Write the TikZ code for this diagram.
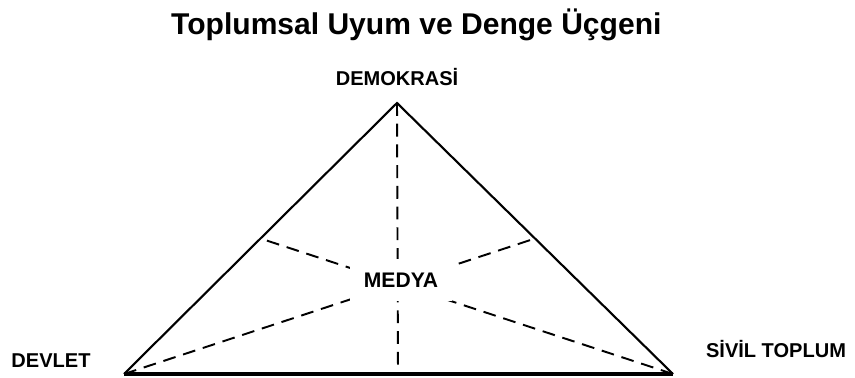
\documentclass[tikz,border=0pt]{standalone}
\usepackage{fontspec}
\setmainfont{Liberation Sans}
\usetikzlibrary{calc}

\begin{document}
\begin{tikzpicture}[x=0.02cm,y=-0.02cm,
	vertexlabel/.style={font=\bfseries\fontsize{11.4}{13}\selectfont},
	median/.style={dash pattern=on 7.3pt off 4.5pt,line width=1.1pt}]
	\useasboundingbox (0,0) rectangle (855,378);
	\node[anchor=base west,font=\bfseries\fontsize{17.1}{20}\selectfont] (title) at (165,35) {Toplumsal Uyum ve Denge Üçgeni};
	\coordinate (top) at (397,103);
	\coordinate (left) at (124,374);
	\coordinate (right) at (673,374);
	\coordinate (foot) at (398,374);
	\node[vertexlabel] (demokrasi) at (397,77) {DEMOKRASİ};
	\node[vertexlabel] (devlet) at (51,361) {DEVLET};
	\node[vertexlabel] (sivil) at (776,349) {SİVİL TOPLUM};
	\draw[median] (top) -- (foot);
	\draw[median] (left) -- ($(top)!0.5!(right)$);
	\draw[median] (right) -- ($(top)!0.5!(left)$);
	\node[vertexlabel,font=\bfseries\fontsize{12}{14}\selectfont,fill=white,inner sep=8pt] (medya) at (401,280) {MEDYA};
	\draw[line width=1.2pt,line join=miter] (left) -- (top) -- (right);
	\draw[line width=1.8pt] (left) -- (right);
\end{tikzpicture}
\end{document}
